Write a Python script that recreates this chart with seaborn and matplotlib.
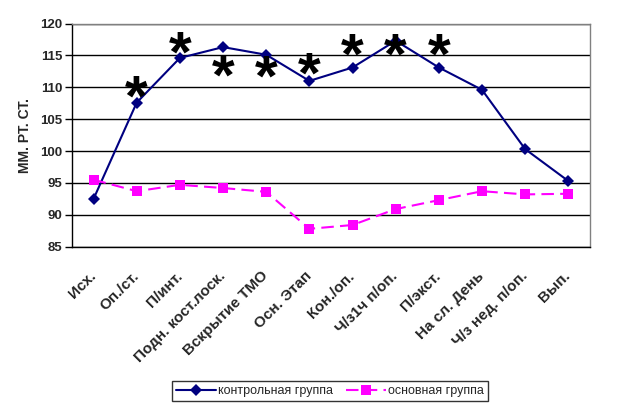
import numpy as np
import pandas as pd
import matplotlib
matplotlib.use("Agg")
import matplotlib.pyplot as plt
import matplotlib.transforms as mtransforms
import seaborn as sns

categories = ["Исх.", "Оп./ст.", "П/инт.", "Подн. кост.лоск.", "Вскрытие ТМО",
              "Осн. Этап", "Кон./оп.", "Ч/з1ч п/оп.", "П/экст.", "На сл. День",
              "Ч/з нед. п/оп.", "Вып."]
control = [92.5, 107.6, 114.6, 116.3, 115.1, 111.0, 113.1, 117.3, 113.1, 109.6, 100.3, 95.3]
main = [95.5, 93.7, 94.7, 94.2, 93.6, 87.8, 88.4, 90.9, 92.3, 93.7, 93.2, 93.3]
series_names = ["контрольная группа", "основная группа"]
star_cats = [1, 2, 3, 4, 5, 6, 7, 8]
star_y = [110.0, 116.9, 113.4, 113.2, 113.6, 116.6, 116.6, 116.6]
yticks = [85, 90, 95, 100, 105, 110, 115, 120]

sns.set_theme(style="white")
plt.rcParams['font.family'] = ['Liberation Sans', 'DejaVu Sans']

df = pd.DataFrame({
    "x": list(range(len(categories))) * 2,
    "y": control + main,
    "group": [series_names[0]] * len(control) + [series_names[1]] * len(main),
})

fig = plt.figure(figsize=(6.19, 4.16), dpi=100)
ax = fig.add_axes([0.1163, 0.407, 0.953 - 0.1163, 0.9435 - 0.407])

sns.lineplot(data=df, x="x", y="y", hue="group", style="group",
             palette={series_names[0]: "#000080", series_names[1]: "#FF00FF"},
             markers={series_names[0]: "D", series_names[1]: "s"},
             dashes={series_names[0]: "", series_names[1]: (6, 3)},
             markersize=7, linewidth=1.5, markeredgewidth=0, ax=ax)
for line in ax.lines:
    if line.get_marker() == "D":
        line.set_markersize(6)

star_fs = 42
star_tr = mtransforms.offset_copy(ax.transData, fig=fig, x=0, y=-0.49 * star_fs, units="points")
for c, yv in zip(star_cats, star_y):
    ax.text(c, yv, "*", fontsize=star_fs, fontweight="bold", ha="center",
            va="baseline", color="black", zorder=5, transform=star_tr)

ax.set_xlim(-0.5, len(categories) - 0.5)
ax.set_ylim(85, 120)
ax.set_yticks(yticks)
ax.set_yticklabels([str(v) for v in yticks], fontsize=9.5, fontweight="bold")
ax.set_xticks(range(len(categories)))
ax.set_xticklabels(categories, rotation=45, ha="right", va="center",
                   rotation_mode="anchor", fontsize=11, fontweight="bold")
ax.set_xticks(np.arange(-0.5, len(categories)), minor=True)
ax.tick_params(axis="x", which="major", length=0, pad=19.5)
ax.tick_params(axis="x", which="minor", length=5, width=1, color="black", direction="out")
ax.tick_params(axis="y", length=5, width=1, color="black", direction="out", left=True, pad=2)
ax.grid(axis="y", color="black", linewidth=1)
ax.set_axisbelow(True)
ax.set_xlabel("")
ax.set_ylabel("ММ. РТ. СТ.", fontsize=10, fontweight="bold", labelpad=6)
for s in ["left", "bottom"]:
    ax.spines[s].set_color("black")
    ax.spines[s].set_linewidth(1)
for s in ["top", "right"]:
    ax.spines[s].set_color("#808080")
    ax.spines[s].set_linewidth(1)

handles, labels = ax.get_legend_handles_labels()
ax.legend_.remove()
leg = fig.legend(handles, labels, loc="center", bbox_to_anchor=(330 / 619, 1 - 391 / 416),
                 ncol=2, fontsize=9, frameon=True, fancybox=False,
                 edgecolor="black", handlelength=3.2, columnspacing=1.0,
                 handletextpad=0.2, borderpad=0.3, borderaxespad=0)
leg.get_frame().set_linewidth(1)

fig.savefig("out.png", dpi=100)
